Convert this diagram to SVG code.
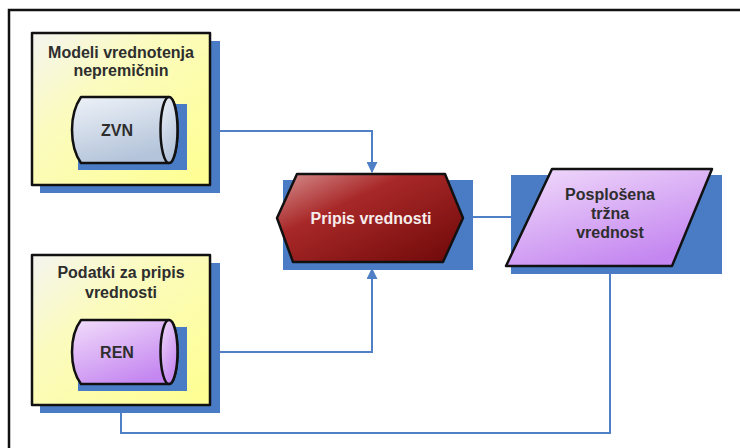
<svg xmlns="http://www.w3.org/2000/svg" width="740" height="448" viewBox="0 0 740 448">
  <defs>
    <linearGradient id="gYellow" x1="0" y1="0" x2="1" y2="1">
      <stop offset="0" stop-color="#f4f4f0"/>
      <stop offset="0.35" stop-color="#fbfbc0"/>
      <stop offset="1" stop-color="#ffff90"/>
    </linearGradient>
    <linearGradient id="gBlueCyl" x1="0" y1="0" x2="0.4" y2="1">
      <stop offset="0" stop-color="#eef2f8"/>
      <stop offset="1" stop-color="#b4c4da"/>
    </linearGradient>
    <linearGradient id="gPurple" x1="0" y1="0" x2="0.6" y2="1">
      <stop offset="0" stop-color="#f2ddfb"/>
      <stop offset="1" stop-color="#c486f0"/>
    </linearGradient>
    <linearGradient id="gRed" x1="0" y1="0" x2="1" y2="1">
      <stop offset="0" stop-color="#d89090"/>
      <stop offset="0.35" stop-color="#a82828"/>
      <stop offset="1" stop-color="#6e0808"/>
    </linearGradient>
    <marker id="arr" viewBox="0 0 10 10" refX="9" refY="5" markerWidth="5.5" markerHeight="5.5" orient="auto">
      <path d="M0,0 L10,5 L0,10 Z" fill="#4f7fc4"/>
    </marker>
    <style>
      .shadow { fill: #4a7cc6; }
      .outline { stroke: #111; stroke-width: 2.5; stroke-linejoin: round; }
      .label { font-family: "Liberation Sans", Arial, sans-serif; font-weight: bold; font-size: 16px; fill: #2e2e2e; text-anchor: middle; }
      .conn { fill: none; stroke: #4f7fc4; stroke-width: 2; }
    </style>
  </defs>

  <!-- page frame -->
  <rect x="9" y="10" width="740" height="450" fill="#fff" stroke="#111" stroke-width="2.5"/>

  <!-- connectors -->
  <g id="connectors">
    <path class="conn" d="M177,131 H372 V172" marker-end="url(#arr)"/>
    <path class="conn" d="M177,352 H372 V269" marker-end="url(#arr)"/>
    <path class="conn" d="M463,217 H512"/>
    <path class="conn" d="M610,266 V433 H121 V391" marker-end="url(#arr)"/>
  </g>

  <!-- group: models -->
  <g id="models">
    <rect class="shadow" x="40" y="41" width="180" height="152"/>
    <rect x="32" y="33" width="178" height="152" fill="url(#gYellow)" class="outline"/>
    <text class="label" x="121" y="58">Modeli vrednotenja</text>
    <text class="label" x="121" y="76">nepremičnin</text>
  </g>

  <!-- store: ZVN -->
  <g id="zvn">
    <rect class="shadow" x="78" y="104" width="109" height="66"/>
    <path d="M81,97 H169 A8.5,33 0 0 1 169,163 H81 Q72,150 72,130 Q72,110 81,97 Z" fill="url(#gBlueCyl)" class="outline"/>
    <ellipse cx="169" cy="130" rx="8.5" ry="33" fill="url(#gBlueCyl)" class="outline"/>
    <text class="label" x="117" y="136">ZVN</text>
  </g>

  <!-- group: input data -->
  <g id="data">
    <rect class="shadow" x="40" y="263" width="180" height="150"/>
    <rect x="32" y="255" width="178" height="150" fill="url(#gYellow)" class="outline"/>
    <text class="label" x="121" y="278">Podatki za pripis</text>
    <text class="label" x="121" y="298">vrednosti</text>
  </g>

  <!-- store: REN -->
  <g id="ren">
    <rect class="shadow" x="78" y="327" width="109" height="64"/>
    <path d="M81,320 H169 A8.5,32 0 0 1 169,384 H81 Q72,372 72,352 Q72,332 81,320 Z" fill="url(#gPurple)" class="outline"/>
    <ellipse cx="169" cy="352" rx="8.5" ry="32" fill="url(#gPurple)" class="outline"/>
    <text class="label" x="117" y="358">REN</text>
  </g>

  <!-- process: value assignment -->
  <g id="pripis">
    <rect class="shadow" x="283" y="180" width="190" height="90"/>
    <polygon points="297,174 445,174 463,218 443,262 293,262 277,218" fill="url(#gRed)" class="outline"/>
    <text class="label" x="371" y="224" style="fill:#f6ecec">Pripis vrednosti</text>
  </g>

  <!-- output: generalized market value -->
  <g id="trzna">
    <rect class="shadow" x="511" y="175" width="211" height="99"/>
    <polygon points="552,169 712,169 672,266 506,266" fill="url(#gPurple)" class="outline"/>
    <text class="label" x="610" y="200">Posplošena</text>
    <text class="label" x="610" y="219">tržna</text>
    <text class="label" x="610" y="238">vrednost</text>
  </g>
</svg>
